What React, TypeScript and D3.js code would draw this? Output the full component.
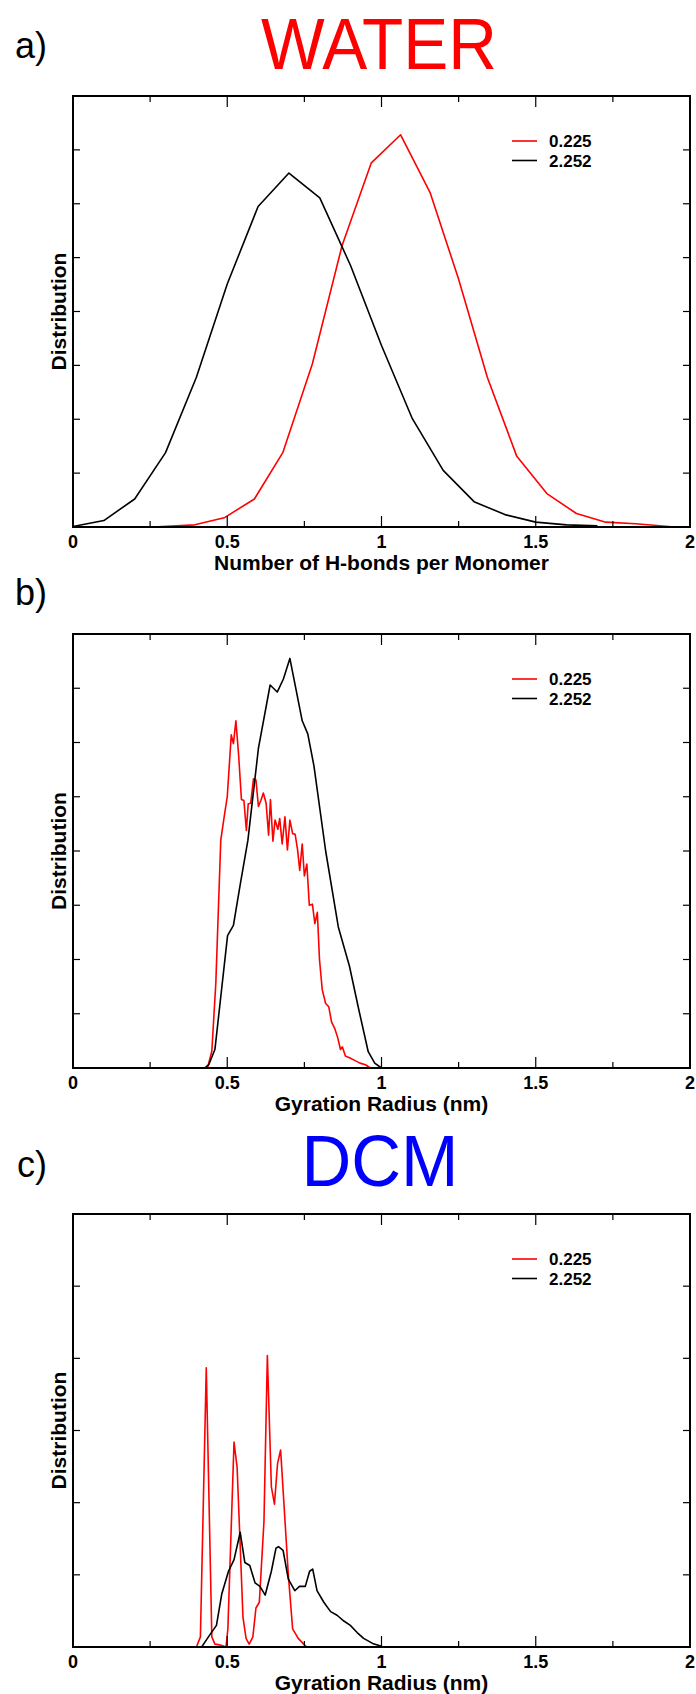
import React from 'react';
import * as d3 from 'd3';

// figure size
const W = 696,
    H = 1694;

// shared axis stuff
const xTickValues = [0, 0.5, 1, 1.5, 2];
const xTickLabels = ['0', '0.5', '1', '1.5', '2'];
const xMinorTicks = [0.25, 0.75, 1.25, 1.75];
const legendLabels = ['0.225', '2.252'];
const seriesColors = ['#ff0000', '#000000'];

// a) number of H-bonds per monomer, water
const hbondRedX = [0.26, 0.395, 0.49, 0.588, 0.68, 0.776, 0.872, 0.967, 1.062, 1.158, 1.25, 1.343, 1.438, 1.536, 1.632, 1.727, 1.824, 1.95];
const hbondRedY = [0.0, 0.04, 0.17, 0.52, 1.38, 3.03, 5.22, 6.76, 7.28, 6.2, 4.6, 2.78, 1.32, 0.62, 0.25, 0.09, 0.06, 0.0];
const hbondBlackX = [0, 0.1, 0.2, 0.3, 0.4, 0.5, 0.6, 0.7, 0.8, 0.9, 1.0, 1.1, 1.2, 1.3, 1.4, 1.5, 1.6, 1.7];
const hbondBlackY = [0.01, 0.12, 0.52, 1.38, 2.78, 4.51, 5.95, 6.57, 6.11, 4.85, 3.37, 2.01, 1.05, 0.47, 0.23, 0.09, 0.04, 0.02];

// b) gyration radius, water
const rgWaterRedX = [0.436, 0.45, 0.463, 0.479, 0.49, 0.5, 0.513, 0.52, 0.528, 0.537, 0.546, 0.554, 0.562, 0.568, 0.576, 0.585, 0.593, 0.601, 0.609, 0.617, 0.626, 0.634, 0.64, 0.648, 0.655, 0.664, 0.67, 0.678, 0.687, 0.695, 0.703, 0.712, 0.72, 0.728, 0.735, 0.743, 0.75, 0.758, 0.766, 0.776, 0.784, 0.792, 0.799, 0.808, 0.819, 0.829, 0.838, 0.849, 0.858, 0.867, 0.873, 0.883, 0.896, 0.913, 0.93, 0.948, 0.964];
const rgWaterRedY = [0, 0.31, 1.57, 4.2, 4.63, 5.0, 6.14, 5.98, 6.4, 5.76, 4.95, 4.93, 4.38, 4.87, 4.88, 5.33, 5.31, 4.82, 4.93, 5.07, 4.88, 4.29, 4.95, 4.18, 4.57, 4.4, 4.6, 4.13, 4.63, 4.02, 4.57, 4.32, 4.31, 4.02, 3.64, 4.13, 3.54, 3.76, 3.0, 3.02, 2.66, 2.87, 2.0, 1.44, 1.19, 1.13, 0.85, 0.72, 0.56, 0.34, 0.39, 0.22, 0.19, 0.14, 0.09, 0.06, 0];
const rgWaterBlackX = [0.427, 0.44, 0.46, 0.501, 0.52, 0.542, 0.567, 0.601, 0.639, 0.662, 0.682, 0.703, 0.743, 0.761, 0.781, 0.819, 0.86, 0.896, 0.927, 0.957, 0.978, 1.0];
const rgWaterBlackY = [0, 0.06, 0.34, 2.44, 2.63, 3.38, 4.2, 5.89, 7.06, 6.93, 7.17, 7.55, 6.4, 6.16, 5.57, 4.0, 2.6, 1.88, 1.06, 0.3, 0.09, 0];

// c) gyration radius, DCM
const rgDcmRedX = [0.4, 0.413, 0.432, 0.45, 0.46, 0.475, 0.496, 0.502, 0.522, 0.532, 0.551, 0.561, 0.571, 0.583, 0.593, 0.604, 0.619, 0.63, 0.643, 0.653, 0.663, 0.673, 0.685, 0.698, 0.712, 0.73, 0.748, 0.758];
const rgDcmRedY = [0, 0.14, 3.87, 0.14, 0.04, 0.03, 0, 0.25, 2.84, 2.49, 0.41, 0.12, 0.04, 0.14, 0.54, 0.62, 1.74, 4.04, 2.22, 1.98, 2.54, 2.73, 1.9, 1.0, 0.25, 0.12, 0.04, 0];
const rgDcmBlackX = [0.417, 0.439, 0.465, 0.482, 0.504, 0.522, 0.542, 0.557, 0.573, 0.59, 0.606, 0.623, 0.643, 0.658, 0.666, 0.681, 0.698, 0.719, 0.734, 0.753, 0.767, 0.777, 0.791, 0.813, 0.835, 0.856, 0.878, 0.899, 0.921, 0.942, 0.971, 1.0];
const rgDcmBlackY = [0, 0.14, 0.3, 0.73, 1.05, 1.21, 1.59, 1.17, 1.13, 0.89, 0.84, 0.72, 1.05, 1.37, 1.39, 1.34, 0.94, 0.78, 0.84, 0.84, 1.05, 1.08, 0.78, 0.62, 0.49, 0.44, 0.36, 0.3, 0.2, 0.12, 0.05, 0.01];

const font = '"Liberation Sans", Arial, Helvetica, sans-serif';

function Panel({ top, bottom, yMax, xLabel, series }) {
    const left = 73,
        right = 690;

    const x = d3.scaleLinear().domain([0, 2]).range([left, right]);
    const y = d3.scaleLinear().domain([0, yMax]).range([bottom, top]);
    const yTicks = y.ticks(yMax).filter(v => v > 0 && v < yMax);

    const line = d3.line()
        .x(d => x(d[0]))
        .y(d => y(d[1]));

    return (
        <g>
            {/* data lines */}
            {series.map((s, i) => (
                <path
                    key={i}
                    d={line(d3.zip(s.xs, s.ys))}
                    fill="none"
                    stroke={s.color}
                    strokeWidth={1.6}
                    strokeLinejoin="round"
                />
            ))}
            {/* frame */}
            <rect x={left} y={top} width={right - left} height={bottom - top} fill="none" stroke="#000" strokeWidth={2} />
            {/* x ticks top & bottom */}
            {xTickValues.slice(1, -1).map(v => (
                <g key={'M' + v}>
                    <line x1={x(v)} x2={x(v)} y1={bottom} y2={bottom - 11} stroke="#000" strokeWidth={1.2} />
                    <line x1={x(v)} x2={x(v)} y1={top} y2={top + 11} stroke="#000" strokeWidth={1.2} />
                </g>
            ))}
            {xMinorTicks.map(v => (
                <g key={'m' + v}>
                    <line x1={x(v)} x2={x(v)} y1={bottom} y2={bottom - 6} stroke="#000" strokeWidth={1.2} />
                    <line x1={x(v)} x2={x(v)} y1={top} y2={top + 6} stroke="#000" strokeWidth={1.2} />
                </g>
            ))}
            {/* y ticks, no labels */}
            {yTicks.map(v => (
                <g key={'y' + v}>
                    <line x1={left} x2={left + 7} y1={y(v)} y2={y(v)} stroke="#000" strokeWidth={1.2} />
                    <line x1={right} x2={right - 7} y1={y(v)} y2={y(v)} stroke="#000" strokeWidth={1.2} />
                </g>
            ))}
            {/* tick labels */}
            {xTickValues.map((v, i) => (
                <text key={'t' + v} x={x(v)} y={bottom + 21} textAnchor="middle" fontFamily={font} fontWeight="bold" fontSize={18}>
                    {xTickLabels[i]}
                </text>
            ))}
            <text x={(left + right) / 2} y={bottom + 43} textAnchor="middle" fontFamily={font} fontWeight="bold" fontSize={21}>
                {xLabel}
            </text>
            <text
                transform={`translate(58,${(top + bottom) / 2}) rotate(-90)`}
                dy="0.36em"
                textAnchor="middle"
                fontFamily={font}
                fontWeight="bold"
                fontSize={21}
            >
                Distribution
            </text>
            {/* legend */}
            {legendLabels.map((lab, i) => (
                <g key={lab}>
                    <line x1={512} x2={537} y1={top + 45 + i * 19.5} y2={top + 45 + i * 19.5} stroke={seriesColors[i]} strokeWidth={1.6} />
                    <text x={549} y={top + 45 + i * 19.5} dy="0.36em" fontFamily={font} fontWeight="bold" fontSize={17}>
                        {lab}
                    </text>
                </g>
            ))}
        </g>
    );
}

export default function App() {
    return (
        <svg width={W} height={H} style={{ position: 'absolute', left: 0, top: 0, background: '#fff' }}>
            <rect width={W} height={H} fill="#fff" />
            <text x={15} y={58} fontFamily={font} fontSize={36}>a)</text>
            <text x={379} y={69} textAnchor="middle" fontFamily={font} fontSize={72} fill="#ff0000" textLength={236} lengthAdjust="spacingAndGlyphs">WATER</text>
            <Panel
                top={96}
                bottom={527}
                yMax={8}
                xLabel="Number of H-bonds per Monomer"
                series={[
                    { xs: hbondRedX, ys: hbondRedY, color: seriesColors[0] },
                    { xs: hbondBlackX, ys: hbondBlackY, color: seriesColors[1] }
                ]}
            />
            <text x={15} y={605} fontFamily={font} fontSize={36}>b)</text>
            <Panel
                top={634}
                bottom={1068}
                yMax={8}
                xLabel="Gyration Radius (nm)"
                series={[
                    { xs: rgWaterRedX, ys: rgWaterRedY, color: seriesColors[0] },
                    { xs: rgWaterBlackX, ys: rgWaterBlackY, color: seriesColors[1] }
                ]}
            />
            <text x={17} y={1177} fontFamily={font} fontSize={36}>c)</text>
            <text x={380} y={1186} textAnchor="middle" fontFamily={font} fontSize={72} fill="#0000ff" textLength={157} lengthAdjust="spacingAndGlyphs">DCM</text>
            <Panel
                top={1214}
                bottom={1647}
                yMax={6}
                xLabel="Gyration Radius (nm)"
                series={[
                    { xs: rgDcmRedX, ys: rgDcmRedY, color: seriesColors[0] },
                    { xs: rgDcmBlackX, ys: rgDcmBlackY, color: seriesColors[1] }
                ]}
            />
        </svg>
    );
}
